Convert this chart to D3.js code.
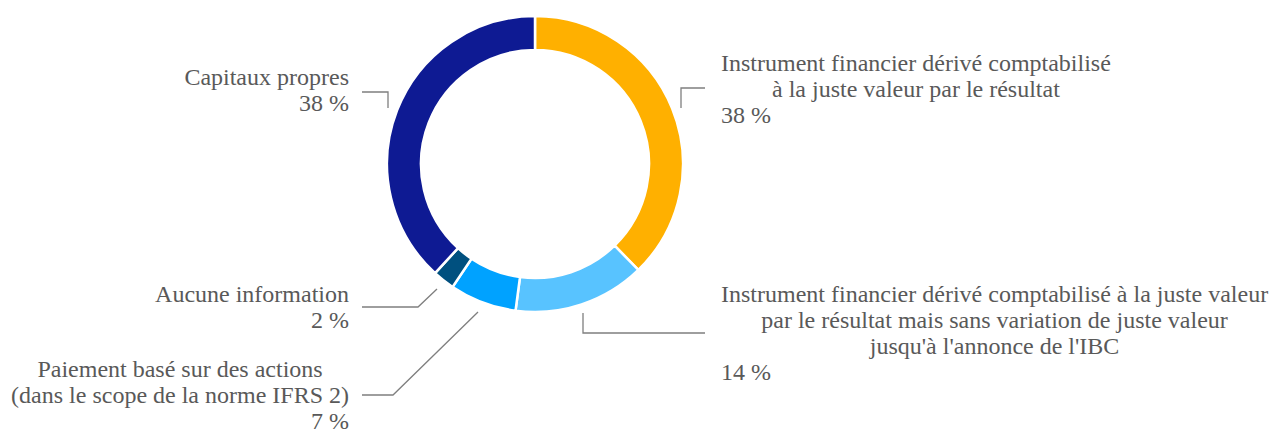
<!DOCTYPE html>
<html>
<head>
<meta charset="utf-8">
<script src="https://cdn.jsdelivr.net/npm/d3@7"></script>
<style>
  body { margin: 0; background: #fff; }
</style>
</head>
<body>
<div id="chart"></div>
<script>
// slices, clockwise from 12 o'clock
var categories = [
  ["Instrument financier dérivé comptabilisé", "à la juste valeur par le résultat"],
  ["Instrument financier dérivé comptabilisé à la juste valeur", "par le résultat mais sans variation de juste valeur", "jusqu'à l'annonce de l'IBC"],
  ["Paiement basé sur des actions", "(dans le scope de la norme IFRS 2)"],
  ["Aucune information"],
  ["Capitaux propres"]
];
var shares = [37.7, 14.4, 7.3, 2.4, 38.2];
var colors = ["#ffb000", "#58c3ff", "#00a2ff", "#00507f", "#0e1a93"];

var width = 1270, height = 430;
var cx = 535, cy = 164;
var outerR = 148, innerR = 114;
var fontFamily = "'Liberation Serif', Tinos, 'Times New Roman', Times, serif";
var fontSize = 24, lineH = 26;

// label placement: side, anchor x, first baseline, leader polyline
var labelPos = [
  {side: "right", x: 721, y: 71,  leader: [[705, 88], [681, 88], [681, 108]]},
  {side: "right", x: 721, y: 302, leader: [[705, 333], [583, 333], [583, 313]]},
  {side: "left",  x: 349, y: 377, leader: [[362, 395], [393, 395], [478, 312]]},
  {side: "left",  x: 349, y: 302, leader: [[362, 307], [418, 307], [437, 289]]},
  {side: "left",  x: 349, y: 85,  leader: [[362, 92], [388, 92], [388, 108]]}
];

var svg = d3.select("#chart").append("svg")
    .attr("width", width)
    .attr("height", height);

var pie = d3.pie().sort(null).value(function(d) { return d; });
var arc = d3.arc().innerRadius(innerR).outerRadius(outerR);

var g = svg.append("g").attr("transform", "translate(" + cx + "," + cy + ")");

g.selectAll("path")
    .data(pie(shares))
  .enter().append("path")
    .attr("d", arc)
    .attr("fill", function(d, i) { return colors[i]; })
    .attr("stroke", "#fff")
    .attr("stroke-width", 2.5);

// leader lines
var line = d3.line();
svg.selectAll(".leader")
    .data(labelPos)
  .enter().append("path")
    .attr("class", "leader")
    .attr("d", function(d) { return line(d.leader); })
    .attr("fill", "none")
    .attr("stroke", "#7f7f7f")
    .attr("stroke-width", 1.3);

// labels
labelPos.forEach(function(p, i) {
  var lines = categories[i];
  var texts = [];
  lines.forEach(function(s, k) {
    var t = svg.append("text")
        .attr("y", p.y + k * lineH)
        .attr("font-family", fontFamily)
        .attr("font-size", fontSize)
        .attr("fill", "#595959")
        .text(s);
    texts.push(t);
  });
  var widths = texts.map(function(t) { return t.node().getComputedTextLength(); });
  var blockW = d3.max(widths);
  var center = p.side == "left" ? p.x - blockW / 2 : p.x + blockW / 2;
  texts.forEach(function(t) {
    t.attr("x", center).attr("text-anchor", "middle");
  });
  svg.append("text")
      .attr("x", p.x)
      .attr("y", p.y + lines.length * lineH)
      .attr("text-anchor", p.side == "left" ? "end" : "start")
      .attr("font-family", fontFamily)
      .attr("font-size", fontSize)
      .attr("fill", "#595959")
      .text(Math.round(shares[i]) + " %");
});
</script>
</body>
</html>
